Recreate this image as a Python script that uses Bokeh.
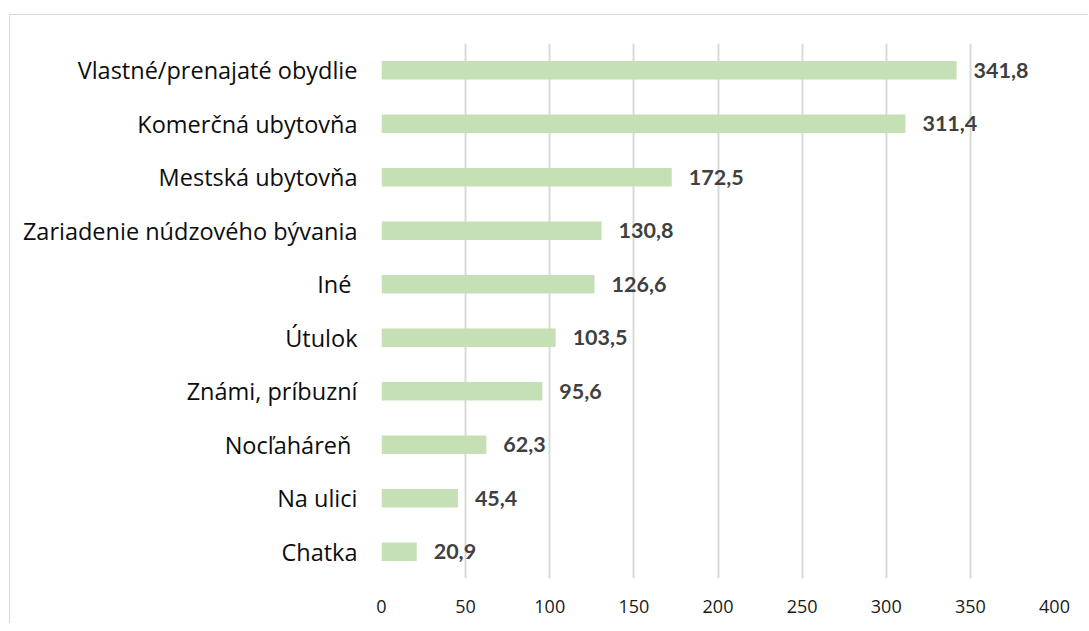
from bokeh.plotting import figure
from bokeh.models import ColumnDataSource, FixedTicker, LabelSet
from bokeh.embed import file_html
from bokeh.resources import INLINE
from bokeh.core.properties import value

categories = ["Vlastné/prenajaté obydlie", "Komerčná ubytovňa", "Mestská ubytovňa",
              "Zariadenie núdzového bývania", "Iné\u00a0", "Útulok", "Známi, príbuzní",
              "Nocľaháreň\u00a0", "Na ulici", "Chatka"]
values = [341.8, 311.4, 172.5, 130.8, 126.6, 103.5, 95.6, 62.3, 45.4, 20.9]
labels = ["341,8", "311,4", "172,5", "130,8", "126,6", "103,5", "95,6", "62,3", "45,4", "20,9"]
x_ticks = [0, 50, 100, 150, 200, 250, 300, 350, 400]

src = ColumnDataSource(dict(cat=categories, val=values, lab=labels))

p = figure(y_range=list(reversed(categories)), x_range=(0, 400),
           width=1079, height=609, output_backend="svg", toolbar_location=None,
           min_border_left=371, min_border_top=28, min_border_bottom=46, min_border_right=35)
p.margin = (14, 0, 0, 9)
p.styles = {"border-top": "1px solid #D9D9D9", "border-left": "1px solid #D9D9D9"}
p.outline_line_color = None
p.y_range.range_padding = 0

p.hbar(y="cat", right="val", height=0.35, source=src, fill_color="#C5E0B4", line_color=None)

labs = LabelSet(x="val", y="cat", text="lab", source=src, x_offset=17,
                text_font=value("Lato"), text_font_style="bold", text_font_size="21.5px",
                text_color="#404040", text_baseline="middle")
p.add_layout(labs)

p.xaxis.ticker = FixedTicker(ticks=x_ticks)
p.xaxis.axis_line_color = None
p.xaxis.major_tick_line_color = None
p.xaxis.minor_tick_line_color = None
p.xaxis.major_label_text_font = "Open Sans"
p.xaxis.major_label_text_font_size = "18px"
p.xaxis.major_label_text_color = "#1a1a1a"
p.xaxis.major_label_standoff = 15

p.yaxis.axis_line_color = None
p.yaxis.major_tick_line_color = None
p.yaxis.minor_tick_line_color = None
p.yaxis.major_label_text_font = "Open Sans"
p.yaxis.major_label_text_font_size = "23.5px"
p.yaxis.major_label_text_color = "#0d0d0d"
p.yaxis.major_label_standoff = 18

p.ygrid.grid_line_color = None
p.xgrid.grid_line_color = "#D9D9D9"
p.xgrid.grid_line_width = 2

open("out.html", "w").write(file_html(p, INLINE))
